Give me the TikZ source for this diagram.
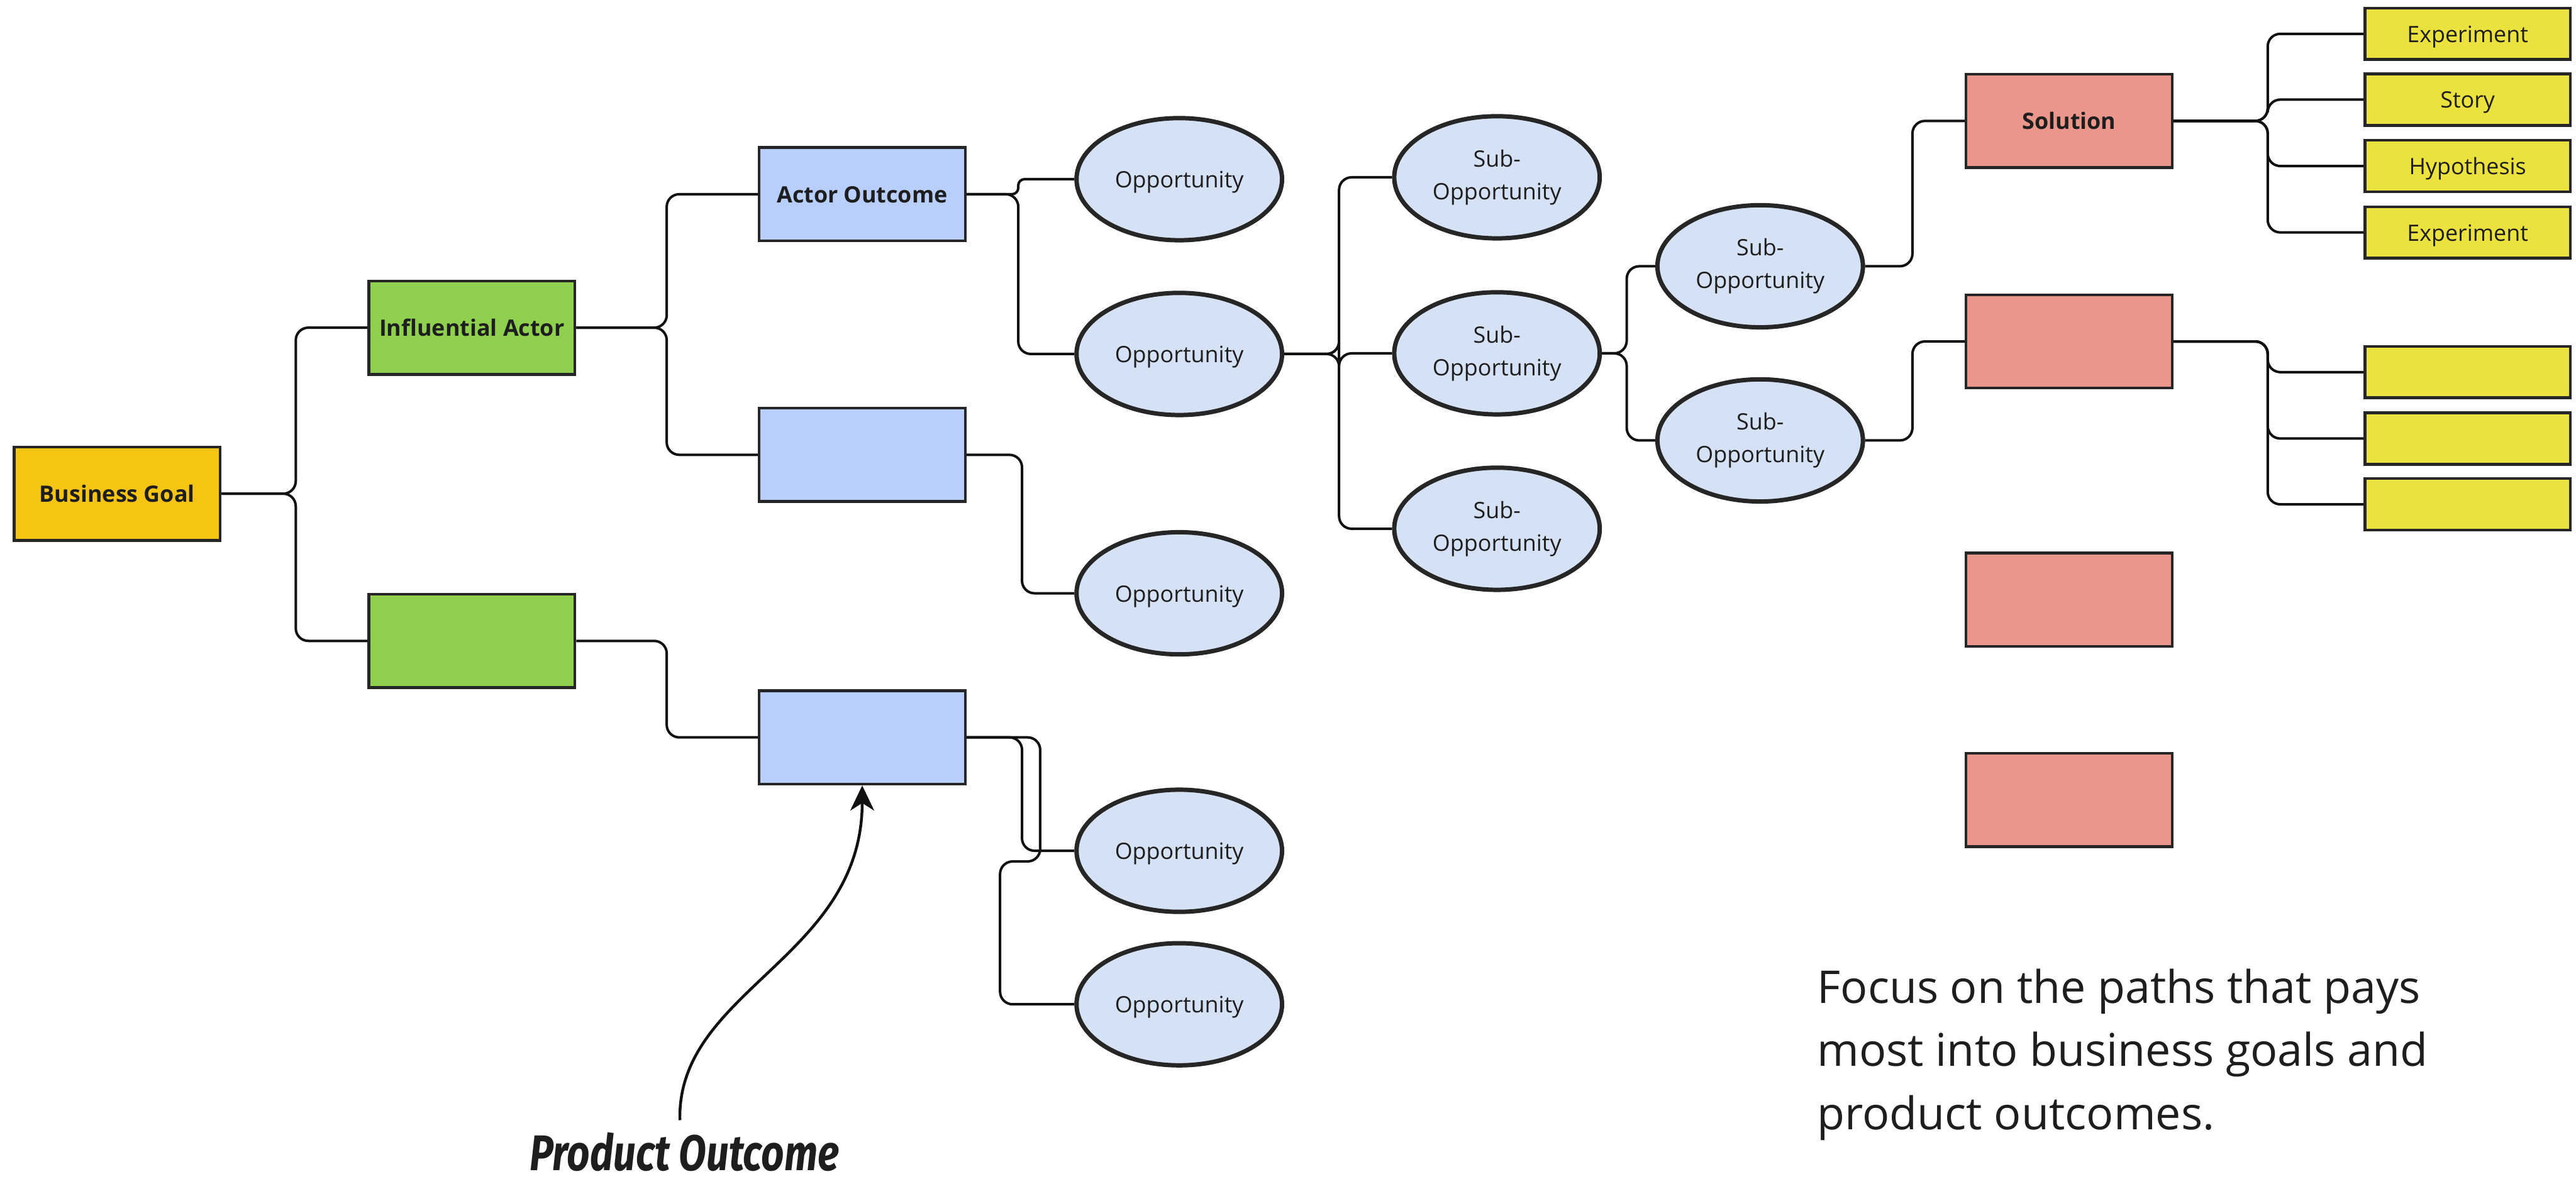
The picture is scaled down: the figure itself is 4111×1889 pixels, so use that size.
\documentclass[tikz,border=0pt]{standalone}
\usepackage{fontspec}
\usepackage{graphicx}
\setmainfont{Open Sans}
\newfontfamily\handfont{Fira Sans}
\usetikzlibrary{arrows.meta,calc,shapes.geometric}

\definecolor{goalc}{HTML}{F6C514}
\definecolor{actorc}{HTML}{8FD14F}
\definecolor{outcomec}{HTML}{B8CEFB}
\definecolor{oppc}{HTML}{D5E1F5}
\definecolor{solc}{HTML}{EB968A}
\definecolor{taskc}{HTML}{ECE23F}
\definecolor{edgec}{HTML}{262626}
\definecolor{linec}{HTML}{111111}
\definecolor{ink}{HTML}{1E1E1E}

\tikzset{
  oneline/.style={text height=27pt, text depth=0pt},
  card/.style={draw=edgec, line width=4.5pt, inner sep=0pt,
    minimum width=329pt, minimum height=149pt, text=ink, oneline,
    font=\fontsize{36}{44}\selectfont\bfseries},
  goal/.style={card, fill=goalc},
  actor/.style={card, fill=actorc},
  outcome/.style={card, fill=outcomec},
  solution/.style={card, fill=solc},
  subopp/.style={ellipse, draw=edgec, line width=7pt, fill=oppc,
    minimum width=328pt, minimum height=195pt, inner sep=0pt,
    align=center, text=ink, font=\fontsize{36}{52}\selectfont},
  opp/.style={subopp, oneline},
  task/.style={draw=edgec, line width=4.5pt, fill=taskc,
    minimum width=328pt, minimum height=82pt, inner sep=0pt,
    text=ink, oneline, font=\fontsize{36}{44}\selectfont},
  conn/.style={draw=linec, line width=4pt, rounded corners=20pt},
}

% parent -> spine -> child, elbow connector
\newcommand\lnk[4][20pt]{%
  \draw[conn, rounded corners=#1] (#2.east) -- (#2.east -| #3) -- (#4.west -| #3) -- (#4.west);}

\begin{document}
\begin{tikzpicture}[x=1pt,y=-1pt]
\fill[white] (0,0) rectangle (4111,1889);
\useasboundingbox (0,0) rectangle (4111,1889);

% goal and actors
\node[goal] (bg) at (187,788) {Business Goal};
\node[actor] (ia1) at (753,523) {Influential Actor};
\node[actor] (ia2) at (753,1023) {};

% outcomes
\node[outcome] (ao1) at (1376,310) {Actor Outcome};
\node[outcome] (ao2) at (1376,726) {};
\node[outcome] (ao3) at (1376,1177) {};

% opportunities
\node[opp] (op1) at (1882,286) {Opportunity};
\node[opp] (op2) at (1882,565) {Opportunity};
\node[opp] (op3) at (1882,947) {Opportunity};
\node[opp] (op4) at (1882,1358) {Opportunity};
\node[opp] (op5) at (1882,1603) {Opportunity};

% sub-opportunities
\node[subopp] (so1) at (2389,283) {Sub-\\Opportunity};
\node[subopp] (so2) at (2389,564) {Sub-\\Opportunity};
\node[subopp] (so3) at (2389,844) {Sub-\\Opportunity};
\node[subopp] (so4) at (2809,425) {Sub-\\Opportunity};
\node[subopp] (so5) at (2809,703) {Sub-\\Opportunity};

% solutions
\node[solution] (sol1) at (3302,193) {Solution};
\node[solution] (sol2) at (3302,545) {};
\node[solution] (sol3) at (3302,957) {};
\node[solution] (sol4) at (3302,1277) {};

% experiments, stories, hypotheses
\node[task] (t1) at (3938,54) {Experiment};
\node[task] (t2) at (3938,159) {Story};
\node[task] (t3) at (3938,265) {Hypothesis};
\node[task] (t4) at (3938,371) {Experiment};
\node[task] (t5) at (3938,594) {};
\node[task] (t6) at (3938,700) {};
\node[task] (t7) at (3938,805) {};

% spine positions
\coordinate (s0) at (472,0);
\coordinate (s1) at (1064,0);
\coordinate (s2) at (1625,0);
\coordinate (s2b) at (1631,0);
\coordinate (s3) at (2137,0);
\coordinate (s4) at (2596,0);
\coordinate (s5) at (3052,0);
\coordinate (s6) at (3619,0);
\coordinate (w1) at (1660,0);
\coordinate (jogA) at (1660,1375);
\coordinate (jogB) at (1596,1375);

\lnk{bg}{s0}{ia1}
\lnk{bg}{s0}{ia2}
\lnk{ia1}{s1}{ao1}
\lnk{ia1}{s1}{ao2}
\lnk{ia2}{s1}{ao3}
\lnk[10pt]{ao1}{s2}{op1}
\lnk{ao1}{s2}{op2}
\lnk{ao2}{s2b}{op3}
\lnk{ao3}{s2b}{op4}
\draw[conn] (ao3.east) -- (ao3.east -| w1) -- (jogA) -- (jogB) -- (op5.west -| jogB) -- (op5.west);
\lnk{op2}{s3}{so1}
\lnk{op2}{s3}{so2}
\lnk{op2}{s3}{so3}
\lnk{so2}{s4}{so4}
\lnk{so2}{s4}{so5}
\lnk{so4}{s5}{sol1}
\lnk{so5}{s5}{sol2}
\lnk{sol1}{s6}{t1}
\lnk{sol1}{s6}{t2}
\lnk{sol1}{s6}{t3}
\lnk{sol1}{s6}{t4}
\lnk{sol2}{s6}{t5}
\lnk{sol2}{s6}{t6}
\lnk{sol2}{s6}{t7}

% annotation
\node[anchor=base, inner sep=0pt, text=ink] (po) at (1092,1868)
  {\scalebox{0.8}[1]{\handfont\fontsize{80}{90}\selectfont\bfseries\itshape Product Outcome}};
\coordinate (tail) at (1085,1788);
\draw[draw=linec, line width=4.5pt, -{Stealth[length=40pt,width=38pt,inset=12pt]}]
  (tail) .. controls (1080,1580) and (1376,1530) .. (ao3.south);

% base of a multi-line node sits on its last line
\node[anchor=base west, align=left, inner sep=0pt, text=ink,
  font=\fontsize{72}{101}\selectfont] (note) at (2900,1803)
  {Focus on the paths that pays\\most into business goals and\\product outcomes.};
\end{tikzpicture}
\end{document}
